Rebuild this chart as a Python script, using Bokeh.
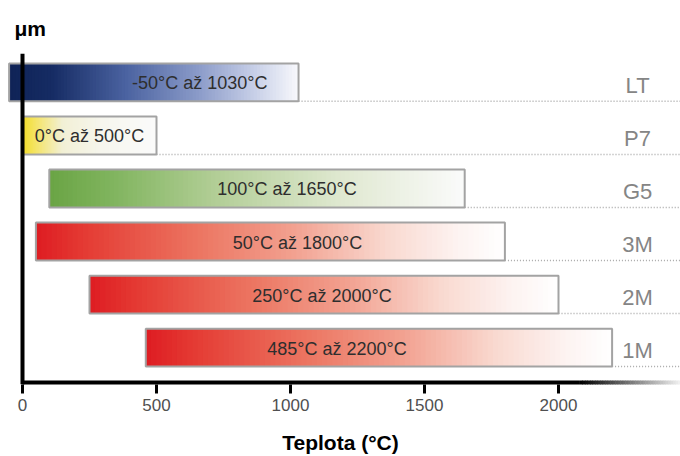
import numpy as np
from bokeh.plotting import figure
from bokeh.models import ColumnDataSource, Range1d, FixedTicker, Span, Title
from bokeh.core.properties import value
from bokeh.embed import file_html
from bokeh.resources import INLINE

# ---------------- data ----------------
series = ["LT", "P7", "G5", "3M", "2M", "1M"]
t_min = [-50, 0, 100, 50, 250, 460]
t_max = [1030, 500, 1650, 1800, 2000, 2200]
range_labels = ["-50°C až 1030°C", "0°C až 500°C", "100°C až 1650°C",
                "50°C až 1800°C", "250°C až 2000°C", "485°C až 2200°C"]
x_ticks = [0, 500, 1000, 1500, 2000]
x_title = "Teplota (°C)"
y_title = "μm"

# ---------------- styles ----------------
SANS = "Liberation Sans"
BAR_H = 0.714
X_START, X_END = -82.09, 2455.2
Y_START, Y_END = 0.3045, 6.545
LABEL_X = 2295
label_dx = [46, 0, 30, 27, -2, -42]   # pixel offsets of in-bar texts

blue = [(0.0, "#0f2356"), (0.15, "#162c64"), (0.4, "#4a62a0"), (0.65, "#8a9ac8"),
        (0.85, "#c8d0e8"), (1.0, "#f8f8fc")]
yellow = [(0.0, "#f2dc28"), (0.1, "#f4e468"), (0.3, "#f2f0d6"), (0.6, "#f6f6ee"), (1.0, "#fbfbfb")]
green = [(0.0, "#6aa444"), (0.15, "#80b45e"), (0.4, "#b2ce96"), (0.7, "#dfe8d0"), (1.0, "#fbfbfb")]
red = [(0.0, "#de1c22"), (0.1, "#e43a33"), (0.35, "#ec7662"), (0.55, "#f2a190"),
       (0.75, "#f9d9d0"), (0.9, "#fdf3f1"), (1.0, "#ffffff")]
gradients = [blue, yellow, green, red, red, red]


def hex2rgb(h):
    return tuple(int(h[i:i + 2], 16) for i in (1, 3, 5))


def ramp(stops, t):
    for (p0, c0), (p1, c1) in zip(stops, stops[1:]):
        if t <= p1:
            f = (t - p0) / (p1 - p0) if p1 > p0 else 0.0
            a, b = hex2rgb(c0), hex2rgb(c1)
            return "#%02x%02x%02x" % tuple(round(a[i] + (b[i] - a[i]) * f) for i in range(3))
    return stops[-1][1]


n = len(series)
ys = [n - i for i in range(n)]

p = figure(width=680, height=456, output_backend="svg", toolbar_location=None,
           x_range=Range1d(X_START, X_END), y_range=Range1d(Y_START, Y_END),
           y_axis_location=None, background_fill_color="white",
           border_fill_color="white")
p.min_border = 0
p.min_border_top = 52
p.min_border_bottom = 72
p.outline_line_color = None
p.grid.visible = False

p.title = Title(text=y_title, align="left", offset=14, standoff=28,
                text_font=SANS, text_font_size="21px", text_font_style="bold",
                text_color="black")

# gradient slices
L, R, B, T, C = [], [], [], [], []
N = 90
for lo, hi, y, stops in zip(t_min, t_max, ys, gradients):
    edges = np.linspace(lo, hi, N + 1)
    w = edges[1] - edges[0]
    for k in range(N):
        L.append(edges[k])
        R.append(min(edges[k + 1] + 0.6 * w, hi))
        B.append(y - BAR_H / 2)
        T.append(y + BAR_H / 2)
        C.append(ramp(stops, (k + 0.5) / N))
p.quad(left=L, right=R, bottom=B, top=T, fill_color=C, line_color=None)

# bar outlines
bars = ColumnDataSource(dict(
    left=t_min, right=t_max, y=ys,
    bottom=[y - BAR_H / 2 for y in ys], top=[y + BAR_H / 2 for y in ys],
    mid=[(a + b) / 2 for a, b in zip(t_min, t_max)],
    text=range_labels, dx=label_dx, name=series,
    x_end=[X_END] * n))
p.quad(left="left", right="right", bottom="bottom", top="top", source=bars,
       fill_color=None, line_color="#a3a3a3", line_width=2)

# dotted guides
p.segment(x0="right", y0="bottom", x1="x_end", y1="bottom", source=bars,
          line_color="#a8a8a8", line_width=1.5, line_dash="1 2")

# in-bar labels
p.text(x="mid", y="y", text="text", source=bars, x_offset="dx", y_offset=1,
       text_align="center", text_baseline="middle",
       text_font=value(SANS), text_font_size="18px", text_color="#2e2e2e")

# right labels
p.text(x=LABEL_X, y="y", text="name", source=bars, y_offset=3,
       text_align="center", text_baseline="middle",
       text_font=value(SANS), text_font_size="22px", text_color="#858585")

# y axis line
p.add_layout(Span(location=0, dimension="height", line_color="black", line_width=4))

# x axis line with fade
p.segment(x0=[0], y0=[Y_START], x1=[2080], y1=[Y_START], line_color="black", line_width=8)
fx = np.linspace(2080, X_END, 41)
fc = [ramp([(0.0, "#000000"), (1.0, "#ffffff")], (x - 2080) / (2470 - 2080)) for x in fx[:-1]]
p.segment(x0=fx[:-1], y0=[Y_START] * 40, x1=fx[1:] + 2, y1=[Y_START] * 40,
          line_color=fc, line_width=8)

ax = p.xaxis[0]
ax.ticker = FixedTicker(ticks=x_ticks)
ax.axis_line_color = None
ax.major_tick_in = 0
ax.major_tick_out = 9
ax.major_tick_line_width = 3
ax.major_tick_line_color = "black"
ax.minor_tick_line_color = None
ax.major_label_standoff = 5
ax.major_label_text_font = SANS
ax.major_label_text_font_size = "17px"
ax.major_label_text_color = "#505050"
ax.axis_label = x_title
ax.axis_label_standoff = 17
ax.axis_label_text_font = SANS
ax.axis_label_text_font_size = "21px"
ax.axis_label_text_font_style = "bold"
ax.axis_label_text_color = "black"

open("out.html", "w").write(file_html(p, INLINE))
